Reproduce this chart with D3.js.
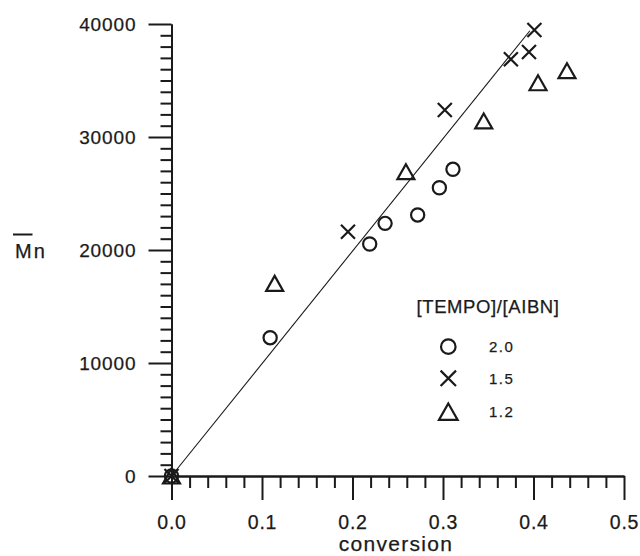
<!DOCTYPE html>
<html>
<head>
<meta charset="utf-8">
<script src="https://cdn.jsdelivr.net/npm/d3@7"></script>
<style>
  html, body { margin: 0; padding: 0; background: #fff; }
  svg { display: block; font-family: "Liberation Sans", Arial, sans-serif; }
  text { fill: #1a1a1a; stroke: #1a1a1a; stroke-width: 0.25; }
</style>
</head>
<body>
<svg id="chart" width="640" height="556"></svg>
<script>
// Number-average molecular weight vs conversion for three [TEMPO]/[AIBN] ratios
const conv20 = [0, 0.109, 0.219, 0.236, 0.272, 0.296, 0.311];
const mn20   = [0, 12240, 20530, 22360, 23100, 25510, 27140];
const conv15 = [0, 0.195, 0.302, 0.375, 0.395, 0.401];
const mn15   = [0, 21620, 32390, 36880, 37520, 39470];
const conv12 = [0, 0.114, 0.259, 0.345, 0.405, 0.437];
const mn12   = [0, 17050, 26930, 31420, 34800, 35870];
// theoretical line
const fitConv = [0, 0.396];
const fitMn   = [0, 39400];

const xMajor = [0, 0.1, 0.2, 0.3, 0.4, 0.5];
const yMajor = [0, 10000, 20000, 30000, 40000];
const seriesLabels = ["2.0", "1.5", "1.2"];
const legendTitle = "[TEMPO]/[AIBN]";
const xTitle = "conversion";

const svg = d3.select("#chart");
const x = d3.scaleLinear().domain([0, 0.5]).range([171.5, 624]);
const y = d3.scaleLinear().domain([0, 40000]).range([476, 24]);

const ink = "#1a1a1a";

// minor ticks
const xMinor = d3.range(0, 0.5001, 0.02).filter(v => Math.abs(v * 10 - Math.round(v * 10)) > 1e-6);
const yMinor = d3.range(0, 40001, 1000).filter(v => v % 10000 !== 0);

const gx = svg.append("g").attr("transform", `translate(0,${y(0)})`);
gx.call(d3.axisBottom(x).tickValues(xMinor).tickSize(12).tickSizeOuter(0).tickFormat(""));
gx.call(g => g.append("g").call(d3.axisBottom(x).tickValues(xMajor).tickSize(24).tickPadding(15)
    .tickSizeOuter(0).tickFormat(d3.format(".1f"))));

const gy = svg.append("g").attr("transform", `translate(${x(0)},0)`);
gy.call(d3.axisLeft(y).tickValues(yMinor).tickSize(11).tickSizeOuter(0).tickFormat(""));
gy.call(g => g.append("g").call(d3.axisLeft(y).tickValues(yMajor).tickSize(23).tickPadding(12)
    .tickSizeOuter(0).tickFormat(d3.format("d"))));

svg.selectAll(".domain").attr("stroke", ink).attr("stroke-width", 2);
svg.selectAll(".tick line").attr("stroke", ink).attr("stroke-width", 2);
gx.selectAll(".tick text").attr("font-size", 19.5).attr("fill", ink).attr("letter-spacing", 0.8)
  .attr("font-family", "Liberation Sans, Arial, sans-serif");
gy.selectAll(".tick text").attr("font-size", 19).attr("fill", ink).attr("letter-spacing", 0.9)
  .attr("font-family", "Liberation Sans, Arial, sans-serif");

// axis titles
svg.append("text").attr("x", 396).attr("y", 550.5).attr("text-anchor", "middle")
  .attr("font-size", 21).attr("letter-spacing", 1.3).text(xTitle);

const ylab = svg.append("text").attr("x", 15).attr("y", 257.5).attr("font-size", 20).attr("letter-spacing", 2);
ylab.append("tspan").text("M");
ylab.append("tspan").text("n");
svg.append("line").attr("x1", 13).attr("x2", 32.5).attr("y1", 234.5).attr("y2", 234.5)
  .attr("stroke", ink).attr("stroke-width", 2);

// theoretical line
svg.append("path")
  .datum(d3.zip(fitConv, fitMn))
  .attr("d", d3.line().x(d => x(d[0])).y(d => y(d[1])))
  .attr("fill", "none").attr("stroke", ink).attr("stroke-width", 1.1);

// marker shapes
const markerPath = {
  circle: () => d3.arc()({innerRadius: 0, outerRadius: 6.6, startAngle: 0, endAngle: 2 * Math.PI}),
  cross: () => "M-7,-7L7,7M-7,7L7,-7",
  triangle: () => "M0,-7.5L8.5,7.5L-8.5,7.5Z"
};

function drawSeries(convs, mns, kind) {
  svg.append("g").selectAll("path")
    .data(d3.zip(convs, mns))
    .join("path")
    .attr("transform", d => `translate(${x(d[0])},${y(d[1])})`)
    .attr("d", markerPath[kind]())
    .attr("fill", "none").attr("stroke", ink).attr("stroke-width", 2.2);
}
drawSeries(conv20, mn20, "circle");
drawSeries(conv15, mn15, "cross");
drawSeries(conv12, mn12, "triangle");

// legend
svg.append("text").attr("x", 416.5).attr("y", 313).attr("font-size", 18.5)
  .attr("letter-spacing", 0.6).text(legendTitle);
const kinds = ["circle", "cross", "triangle"];
const legendY = [346.7, 378.3, 411.7];
kinds.forEach((k, i) => {
  svg.append("path").attr("transform", `translate(448.3,${legendY[i]}) scale(1.1)`)
    .attr("d", markerPath[k]()).attr("fill", "none").attr("stroke", ink).attr("stroke-width", 2);
  svg.append("text").attr("x", 489).attr("y", legendY[i] + 5.5).attr("font-size", 15)
    .attr("letter-spacing", 1.5).text(seriesLabels[i]);
});
</script>
</body>
</html>
